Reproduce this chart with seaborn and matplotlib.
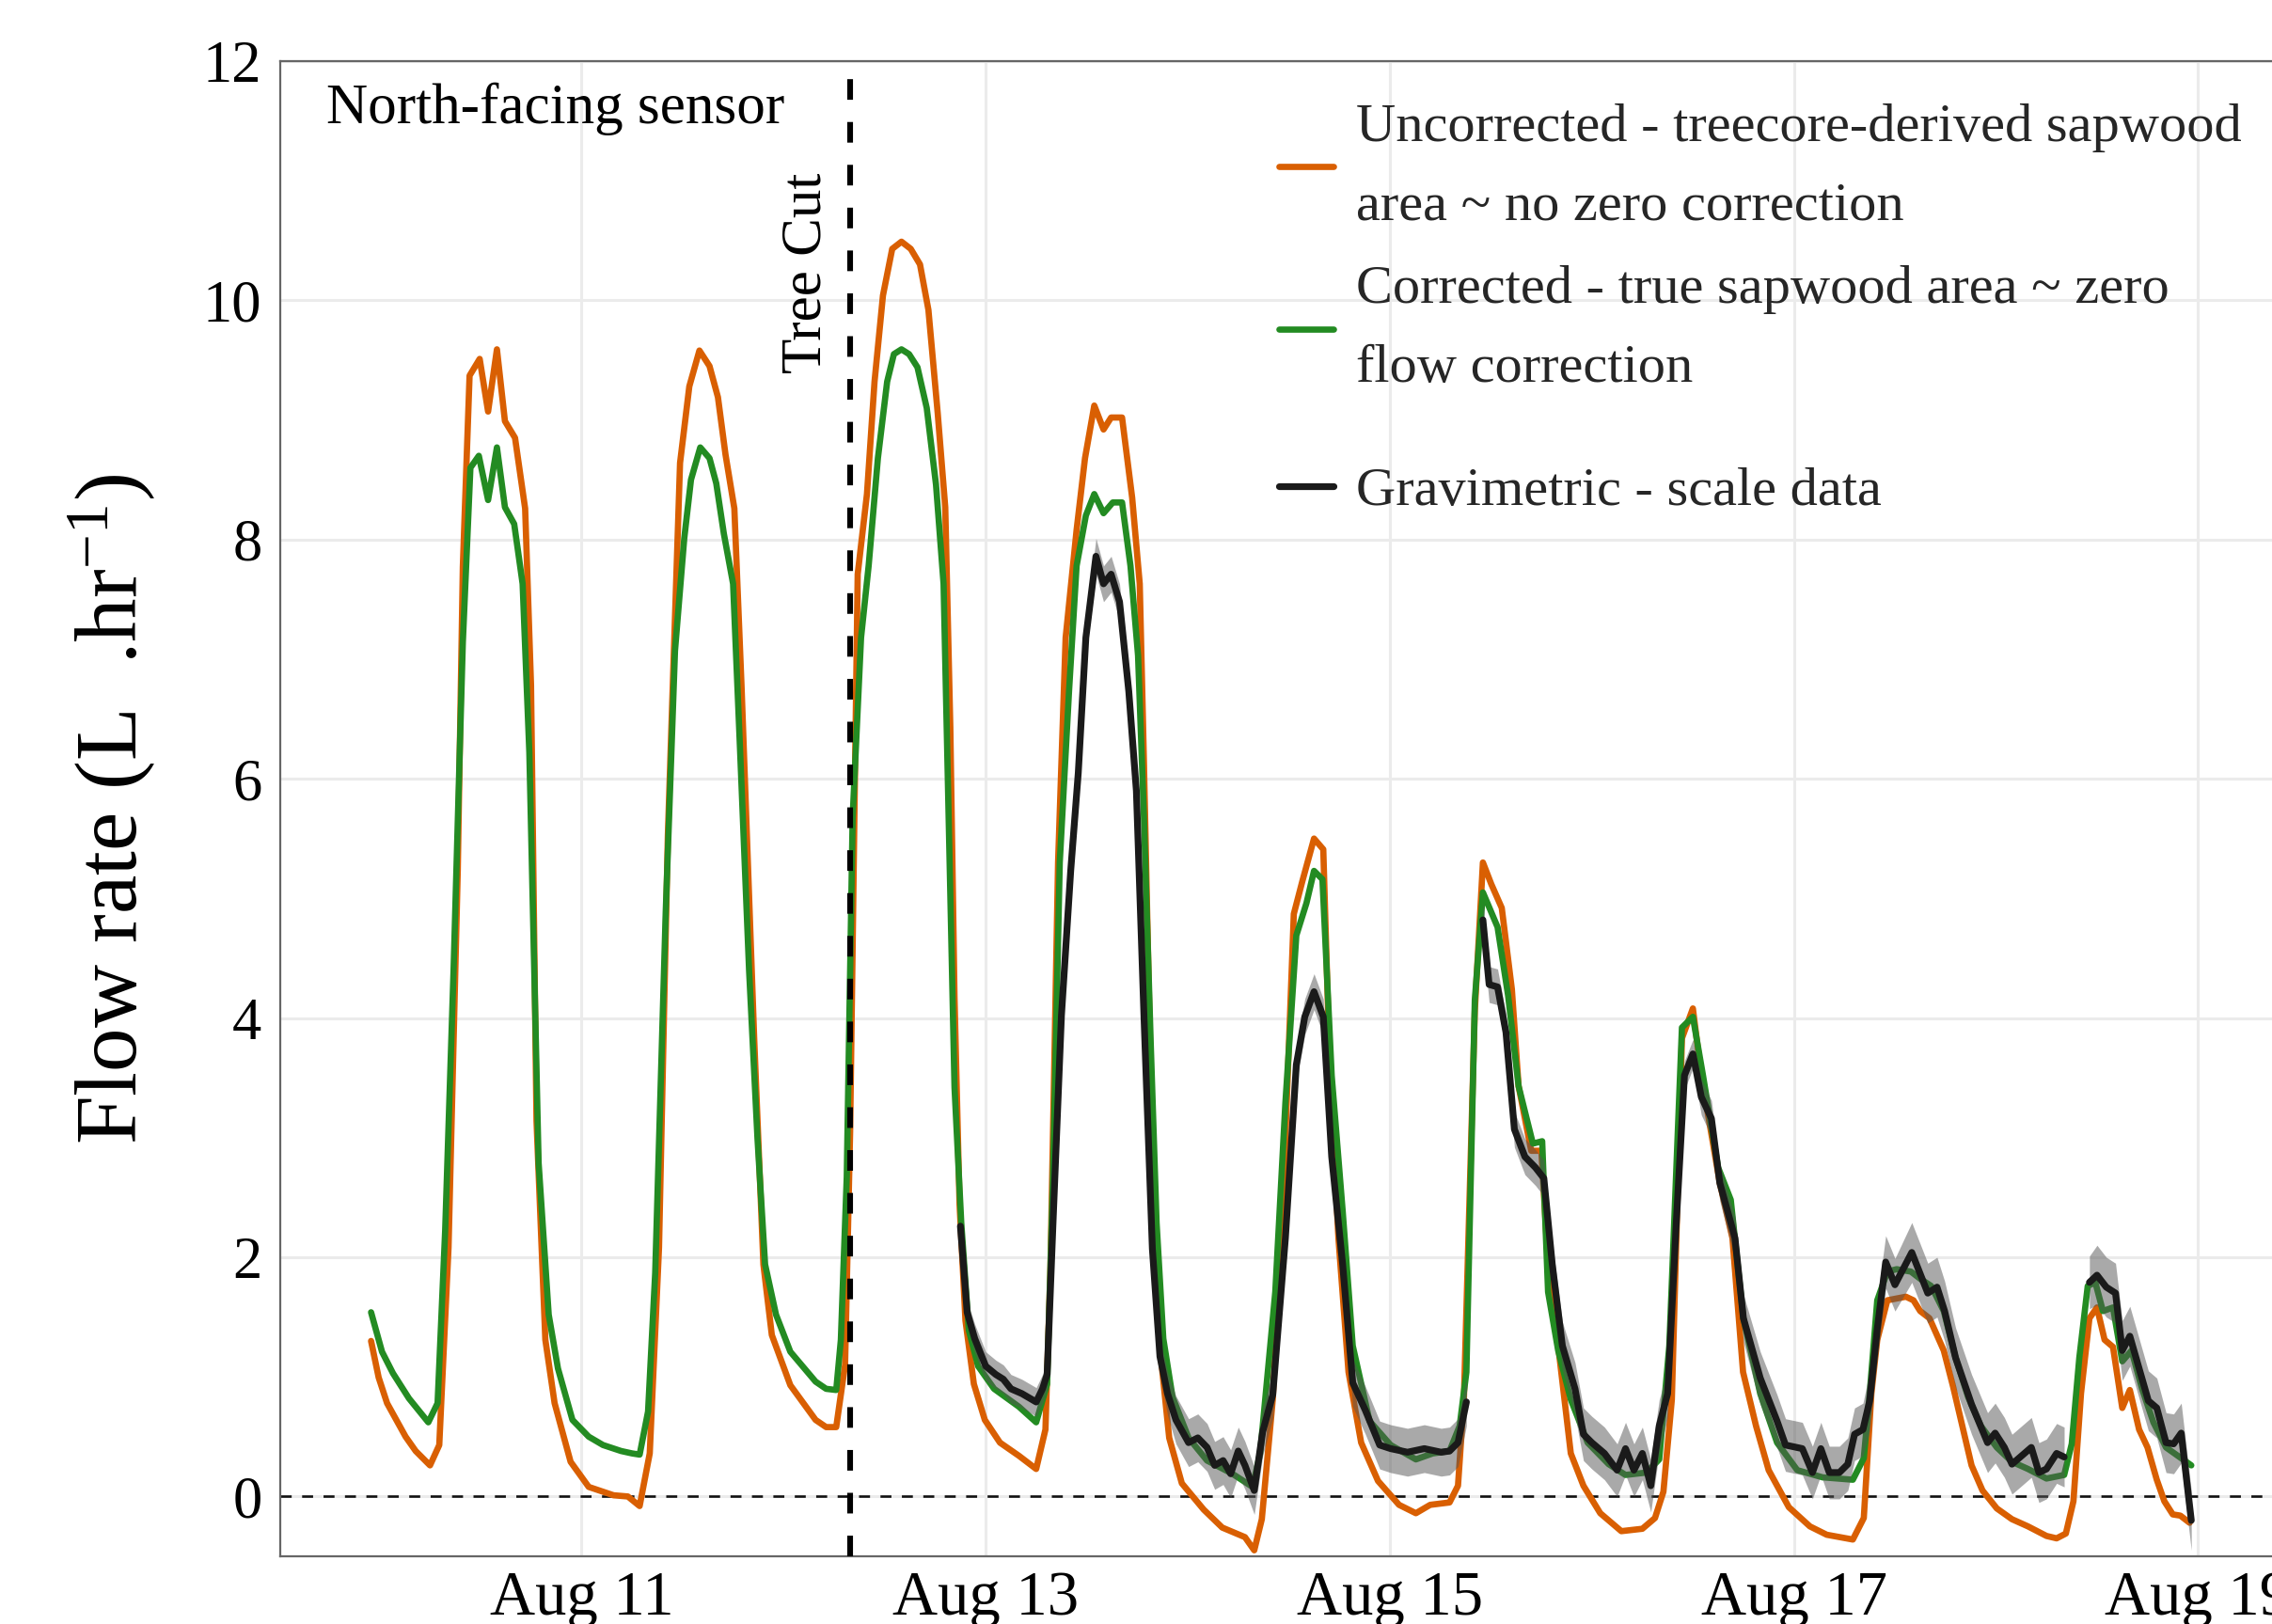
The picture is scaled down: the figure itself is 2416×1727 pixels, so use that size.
import numpy as np
import pandas as pd
import matplotlib
matplotlib.use("Agg")
import matplotlib.pyplot as plt
import matplotlib.dates as mdates
from matplotlib.lines import Line2D
import seaborn as sns

# ---------------- data (hours relative to Aug 11 00:00, flow in L/hr) ----------------
orange_hours = [-25.0, -24.1, -23.1, -20.9, -19.7, -18.0, -16.9, -15.8, -14.7, -14.1,
                -13.3, -12.1, -11.1, -10.05, -9.1, -7.9, -6.7, -6.0, -5.35, -4.3,
                -3.2, -1.3, 0.85, 3.8, 5.5, 6.9, 8.1, 9.2, 10.25, 11.7,
                12.8, 14.0, 15.2, 16.2, 17.1, 18.15, 19.0, 20.5, 21.6, 22.6,
                24.8, 27.8, 29.05, 30.25, 31.3,
                31.9, 32.8, 33.9, 34.8, 35.8, 36.9, 38.0, 39.1, 40.2, 41.2,
                42.3, 43.2, 43.8, 44.3, 44.9, 45.6, 46.6, 47.9, 49.7, 51.95,
                54.0, 55.1, 55.7, 56.6, 57.5, 58.8, 59.8, 60.9, 62.0, 62.9,
                64.2, 65.4, 66.3, 66.8, 67.4, 68.0, 68.7, 69.8, 71.3, 73.9,
                76.1, 78.8, 79.9, 80.8,
                82.1, 83.4, 84.6, 85.6, 87.0, 88.1, 88.9, 89.9, 91.1, 92.6,
                94.6, 97.1, 99.1, 100.8, 103.1, 104.1, 104.8, 106.1, 107.06, 108.05,
                109.3, 110.5, 111.3, 112.8, 114.0, 115.0, 116.0, 117.5, 119.0, 121.0,
                123.5, 126.0, 127.5, 128.5, 129.5, 130.7, 132.0, 133.0, 135.2, 136.7,
                137.96, 139.5, 141.0, 143.4, 145.9, 147.9,
                151.0, 152.3, 153.2, 153.9, 155.1, 157.3, 158.2, 159.0, 160.1, 161.8,
                162.9, 164.0, 165.1, 166.4, 168.1, 169.9, 171.8, 174.0, 175.2, 176.3,
                177.2, 178.1, 179.1, 180.0, 180.9, 181.9, 183.0, 183.9, 185.0, 186.0,
                187.1, 188.0, 189.0, 189.9, 191.0]
orange_flow = [1.30, 0.995, 0.78, 0.50, 0.38, 0.26, 0.43, 2.08, 5.24, 7.77,
               9.37, 9.51, 9.07, 9.59, 8.99, 8.85, 8.26, 6.78, 3.14, 1.31,
               0.78, 0.29, 0.08, 0.01, 0.0, -0.08, 0.36, 2.08, 5.52, 8.64,
               9.28, 9.58, 9.45, 9.19, 8.71, 8.26, 6.78, 3.84, 1.94, 1.35,
               0.93, 0.64, 0.58, 0.58, 1.10,
               3.05, 7.71, 8.38, 9.32, 10.04, 10.43, 10.49, 10.43, 10.30, 9.92,
               9.06, 8.27, 6.43, 4.17, 2.44, 1.47, 0.94, 0.64, 0.45, 0.34,
               0.23, 0.56, 1.92, 5.30, 7.18, 8.08, 8.68, 9.12, 8.92, 9.02,
               9.02, 8.35, 7.63, 6.13, 4.17, 2.29, 1.24, 0.49, 0.11, -0.11,
               -0.26, -0.34, -0.45, -0.19,
               0.81, 2.62, 4.87, 5.14, 5.50, 5.41, 3.52, 2.16, 1.04, 0.45,
               0.13, -0.07, -0.14, -0.07, -0.05, 0.09, 0.81, 4.06, 5.30, 5.12,
               4.92, 4.24, 3.43, 2.89, 2.89, 1.71, 1.26, 0.36, 0.09, -0.14,
               -0.29, -0.27, -0.18, 0.04, 0.81, 3.83, 4.08, 3.52, 2.62, 2.16,
               1.04, 0.59, 0.22, -0.09, -0.25, -0.32,
               -0.36, -0.18, 0.86, 1.31, 1.64, 1.67, 1.64, 1.55, 1.49, 1.22,
               0.92, 0.59, 0.26, 0.05, -0.10, -0.19, -0.25, -0.33, -0.35, -0.31,
               -0.04, 0.86, 1.49, 1.58, 1.31, 1.25, 0.74, 0.89, 0.56, 0.41,
               0.14, -0.04, -0.15, -0.16, -0.22]

green_hours = [-25.0, -23.7, -22.4, -20.5, -18.2, -17.1, -16.2, -15.2, -14.1, -13.2,
               -12.2, -11.1, -10.05, -9.1, -8.0, -7.0, -6.2, -5.1, -3.9, -2.8,
               -1.08, 0.85, 2.55, 4.7, 6.0, 6.9, 7.9, 8.75, 10.0, 11.1,
               12.2, 13.0, 14.1, 15.2, 16.0, 16.9, 18.0, 18.8, 19.9, 20.9,
               21.8, 23.1, 24.8, 27.8, 29.05, 30.25, 30.8,
               31.5, 32.2, 33.2, 34.1, 35.2, 36.3, 37.1, 38.0, 38.9, 39.9,
               41.0, 42.1, 43.0, 43.6, 44.3, 45.1, 46.0, 47.1, 49.0, 51.95,
               54.0, 55.3, 56.0, 56.8, 57.9, 58.8, 59.9, 60.9, 62.0, 63.1,
               64.2, 65.2, 66.1, 66.8, 67.6, 68.3, 69.1, 70.2, 72.1, 74.3,
               77.3, 79.7, 80.6,
               82.4, 83.6, 84.9, 86.1, 87.0, 88.0, 89.1, 90.4, 91.6, 93.6,
               96.1, 99.1, 101.1, 103.1, 104.3, 105.1, 106.1, 107.06, 108.8, 110.05,
               111.3, 113.0, 114.1, 114.8, 116.0, 117.5, 119.5, 122.0, 124.0, 126.5,
               128.0, 129.2, 130.7, 132.0, 133.2, 135.0, 136.5, 138.0, 140.0, 142.0,
               144.4, 147.4,
               151.0, 152.3, 153.0, 153.9, 155.1, 156.2, 157.9, 159.0, 160.3, 161.8,
               163.2, 164.7, 166.2, 168.1, 169.9, 171.8, 174.0, 176.1, 177.0, 177.9,
               178.9, 179.8, 180.7, 181.9, 183.0, 184.1, 185.4, 186.7, 188.2, 190.0,
               191.2]
green_flow = [1.54, 1.21, 1.03, 0.82, 0.62, 0.78, 2.22, 4.40, 7.14, 8.60,
              8.70, 8.33, 8.77, 8.27, 8.13, 7.63, 6.22, 2.79, 1.52, 1.07,
              0.64, 0.50, 0.43, 0.38, 0.36, 0.35, 0.71, 1.87, 4.89, 7.07,
              8.01, 8.50, 8.77, 8.68, 8.47, 8.05, 7.63, 6.29, 4.40, 2.99,
              1.94, 1.52, 1.21, 0.96, 0.90, 0.89, 1.31,
              2.67, 5.68, 7.18, 7.78, 8.68, 9.32, 9.55, 9.59, 9.55, 9.44,
              9.10, 8.46, 7.63, 5.68, 3.42, 2.29, 1.39, 1.09, 0.90, 0.75,
              0.62, 0.94, 2.67, 5.30, 6.73, 7.78, 8.20, 8.38, 8.22, 8.31,
              8.31, 7.78, 7.03, 5.68, 3.80, 2.29, 1.32, 0.83, 0.49, 0.30,
              0.19, 0.08, 0.36,
              1.71, 3.29, 4.69, 4.96, 5.23, 5.16, 3.52, 2.39, 1.26, 0.63,
              0.43, 0.31, 0.36, 0.38, 0.59, 1.04, 4.15, 5.05, 4.76, 4.19,
              3.43, 2.95, 2.97, 1.71, 1.22, 0.81, 0.45, 0.27, 0.18, 0.20,
              0.31, 1.26, 3.92, 4.01, 3.52, 2.75, 2.48, 1.49, 0.86, 0.45,
              0.22, 0.16,
              0.14, 0.32, 0.86, 1.64, 1.88, 1.90, 1.88, 1.82, 1.76, 1.55,
              1.16, 0.83, 0.59, 0.41, 0.29, 0.23, 0.15, 0.18, 0.44, 1.16,
              1.76, 1.79, 1.55, 1.58, 1.13, 1.22, 0.89, 0.62, 0.41, 0.32,
              0.26]

# gravimetric (scale) data: three recorded segments, with spread of the measurement
grav_hours_1 = [45.0, 45.8, 46.7, 48.0, 49.2, 50.1, 51.0, 52.3, 54.0, 54.75,
                55.3, 56.0, 57.0, 58.1, 59.0, 59.9, 61.1, 62.0, 62.9, 63.9,
                65.0, 65.9, 66.8, 67.8, 68.7, 69.6, 70.6, 72.1, 73.2, 74.3,
                75.2, 76.2, 77.1, 78.0, 78.8, 79.9, 80.9, 82.1, 83.6, 84.9,
                85.9, 87.0, 88.1, 89.1, 90.4, 91.6, 93.1, 94.8, 96.1, 98.1,
                100.1, 102.1, 103.1, 104.1, 105.1]
grav_flow_1 = [2.26, 1.54, 1.32, 1.09, 1.02, 0.98, 0.90, 0.86, 0.79, 0.90,
               1.02, 2.29, 4.02, 5.23, 6.05, 7.18, 7.86, 7.63, 7.71, 7.48,
               6.73, 5.90, 4.02, 2.07, 1.17, 0.86, 0.64, 0.45, 0.49, 0.41,
               0.26, 0.30, 0.19, 0.38, 0.26, 0.05, 0.54, 0.85, 2.16, 3.61,
               4.01, 4.22, 4.01, 2.84, 1.94, 0.95, 0.72, 0.43, 0.40, 0.37,
               0.40, 0.37, 0.38, 0.45, 0.79]
grav_spread_1 = [0.05, 0.10, 0.12, 0.12, 0.12, 0.12, 0.12, 0.12, 0.12, 0.12,
                 0.12, 0.15, 0.15, 0.15, 0.15, 0.15, 0.15, 0.15, 0.15, 0.15,
                 0.15, 0.15, 0.15, 0.15, 0.15, 0.18, 0.20, 0.20, 0.20, 0.20,
                 0.20, 0.20, 0.20, 0.20, 0.20, 0.20, 0.20, 0.20, 0.18, 0.15,
                 0.15, 0.15, 0.15, 0.15, 0.20, 0.20, 0.20, 0.20, 0.20, 0.20,
                 0.20, 0.20, 0.20, 0.20, 0.20]
grav_hours_2 = [107.06, 107.8, 108.8, 109.8, 110.8, 112.05, 113.3, 114.3, 115.3, 116.5,
                118.0, 119.0, 120.0, 121.5, 123.0, 124.0, 125.0, 126.0, 127.0, 128.0,
                129.0, 130.0, 131.0, 132.0, 133.0, 134.2, 135.2, 137.0, 138.0, 140.0,
                142.0, 143.0, 145.0, 146.2, 147.2, 148.2, 149.4, 150.4, 151.2, 152.2,
                153.0, 153.9, 154.9, 156.0, 158.0, 159.9, 161.0, 161.9, 163.2, 165.1,
                167.0, 167.9, 169.0, 169.9, 172.2, 173.1, 174.0, 175.2, 176.1]
grav_flow_2 = [4.82, 4.28, 4.26, 3.88, 3.07, 2.84, 2.75, 2.66, 1.94, 1.26,
               0.90, 0.52, 0.45, 0.36, 0.22, 0.40, 0.22, 0.36, 0.09, 0.59,
               0.86, 2.25, 3.52, 3.70, 3.34, 3.16, 2.62, 2.16, 1.49, 0.99,
               0.63, 0.43, 0.40, 0.20, 0.40, 0.20, 0.20, 0.27, 0.52, 0.56,
               0.80, 1.40, 1.96, 1.77, 2.04, 1.70, 1.75, 1.55, 1.16, 0.77,
               0.45, 0.53, 0.41, 0.27, 0.41, 0.20, 0.23, 0.36, 0.33]
grav_spread_2 = [0.15, 0.15, 0.15, 0.15, 0.15, 0.15, 0.15, 0.15, 0.18, 0.20,
                 0.22, 0.22, 0.22, 0.22, 0.22, 0.22, 0.22, 0.22, 0.22, 0.22,
                 0.20, 0.15, 0.12, 0.12, 0.15, 0.15, 0.15, 0.18, 0.20, 0.22,
                 0.22, 0.22, 0.22, 0.22, 0.22, 0.22, 0.22, 0.22, 0.22, 0.22,
                 0.25, 0.25, 0.22, 0.22, 0.25, 0.25, 0.25, 0.25, 0.25, 0.25,
                 0.25, 0.25, 0.25, 0.25, 0.25, 0.25, 0.25, 0.25, 0.25]
grav_hours_3 = [179.1, 180.0, 181.1, 182.2, 183.0, 183.9, 185.0, 186.1, 187.1, 188.2,
                189.1, 190.0, 191.2]
grav_flow_3 = [1.79, 1.85, 1.75, 1.70, 1.22, 1.34, 1.07, 0.80, 0.74, 0.45,
               0.44, 0.53, -0.20]
grav_spread_3 = [0.22, 0.25, 0.25, 0.25, 0.25, 0.25, 0.25, 0.25, 0.25, 0.25,
                 0.25, 0.25, 0.25]

tree_cut_hour = 31.9
series_labels = ["Uncorrected - treecore-derived sapwood\narea ~ no zero correction",
                 "Corrected - true sapwood area ~ zero\nflow correction",
                 "Gravimetric - scale data"]
date_ticks = ["2018-08-11", "2018-08-13", "2018-08-15", "2018-08-17", "2018-08-19"]
y_ticks = [0, 2, 4, 6, 8, 10, 12]

ORANGE = "#D95F02"
GREEN = "#238B22"
BLACK = "#1A1A1A"

base = pd.Timestamp("2018-08-11")


def to_time(hours):
    return base + pd.to_timedelta(np.asarray(hours, dtype=float), unit="h")


# ---------------- styling ----------------
sns.set_theme(style="white")
plt.rcParams["font.family"] = ["Liberation Serif", "DejaVu Serif"]
plt.rcParams["mathtext.fontset"] = "custom"
plt.rcParams["mathtext.rm"] = "Liberation Serif"
plt.rcParams["mathtext.it"] = "Liberation Serif:italic"
plt.rcParams["lines.scale_dashes"] = False

DPI = 200
fig = plt.figure(figsize=(2416 / DPI, 1727 / DPI), dpi=DPI)
fig.patch.set_facecolor("white")
ax = fig.add_axes([0.1233, 0.0417, 0.8812, 0.9207])

LW = 2.4
LW_BK = 2.6

# sensor lines
df_sensor = pd.concat([
    pd.DataFrame({"time": to_time(orange_hours), "flow": orange_flow, "series": "uncorrected"}),
    pd.DataFrame({"time": to_time(green_hours), "flow": green_flow, "series": "corrected"}),
], ignore_index=True)
sns.lineplot(data=df_sensor, x="time", y="flow", hue="series",
             palette={"uncorrected": ORANGE, "corrected": GREEN},
             estimator=None, sort=False, legend=False, linewidth=LW, ax=ax, zorder=3)

# gravimetric ribbon + line
grav_segments = [(grav_hours_1, grav_flow_1, grav_spread_1),
                 (grav_hours_2, grav_flow_2, grav_spread_2),
                 (grav_hours_3, grav_flow_3, grav_spread_3)]
rows = []
for i, (h, f, s) in enumerate(grav_segments):
    t = to_time(h)
    f = np.asarray(f)
    s = np.asarray(s)
    ax.fill_between(t, f - s, f + s, color="#555555", alpha=0.5, lw=0, zorder=4)
    rows.append(pd.DataFrame({"time": t, "flow": f, "seg": i}))
df_grav = pd.concat(rows, ignore_index=True)
sns.lineplot(data=df_grav, x="time", y="flow", units="seg", estimator=None,
             sort=False, color=BLACK, linewidth=LW_BK, ax=ax, zorder=5)

# reference lines
ax.axhline(0, color="#111111", lw=0.95, ls=(0, (4.2, 4.0)), zorder=2)
ax.axvline(to_time([tree_cut_hour])[0], color="black", lw=2.2, ls=(0, (7.9, 8.5)), zorder=6)

# axes
ax.set_xlim(to_time([-35.8])[0], to_time([202.0])[0])
ax.set_ylim(-0.5, 12.0)
ax.set_xticks(pd.to_datetime(date_ticks))
ax.xaxis.set_major_formatter(mdates.DateFormatter("%b %d"))
ax.set_yticks(y_ticks)
ax.grid(True, color="#EBEBEB", lw=1.1)
ax.set_axisbelow(True)
for sp in ax.spines.values():
    sp.set_color("#666666")
    sp.set_linewidth(0.8)
    sp.set_visible(True)
ax.tick_params(axis="both", direction="in", length=6.2, width=1.4, color="#333333",
               labelcolor="black")
ax.tick_params(axis="x", pad=5.5, labelsize=24)
ax.tick_params(axis="y", pad=7, labelsize=22.5)
ax.set_xlabel("")
ax.set_ylabel("Flow rate (L  .hr$^{-1}$)", fontsize=33.5, color="black")
ax.yaxis.set_label_coords(-0.061, 0.5)

# annotations
ax.text(to_time([-30.3])[0], 11.6, "North-facing sensor", fontsize=22,
        ha="left", va="center", color="black")
ax.text(to_time([26.7])[0], 10.23, "Tree Cut", fontsize=22, rotation=90,
        ha="center", va="center", color="black")

# legends
h_or = Line2D([], [], color=ORANGE, lw=LW)
h_gr = Line2D([], [], color=GREEN, lw=LW)
h_bk = Line2D([], [], color=BLACK, lw=LW_BK)
leg1 = ax.legend([h_or, h_gr], series_labels[:2], loc="center left",
                 bbox_to_anchor=(1360 / 2416, 1 - 264 / 1727), bbox_transform=fig.transFigure,
                 frameon=False, fontsize=21, handlelength=1.0, handletextpad=0.4,
                 labelspacing=0.63, borderpad=0, borderaxespad=0)
for t in leg1.get_texts():
    t.set_linespacing(1.80)
ax.add_artist(leg1)
leg2 = ax.legend([h_bk], series_labels[2:], loc="center left",
                 bbox_to_anchor=(1360 / 2416, 1 - 523 / 1727), bbox_transform=fig.transFigure,
                 frameon=False, fontsize=21, handlelength=1.0, handletextpad=0.4,
                 borderpad=0, borderaxespad=0)

fig.savefig("out.png", dpi=DPI, facecolor="white")
